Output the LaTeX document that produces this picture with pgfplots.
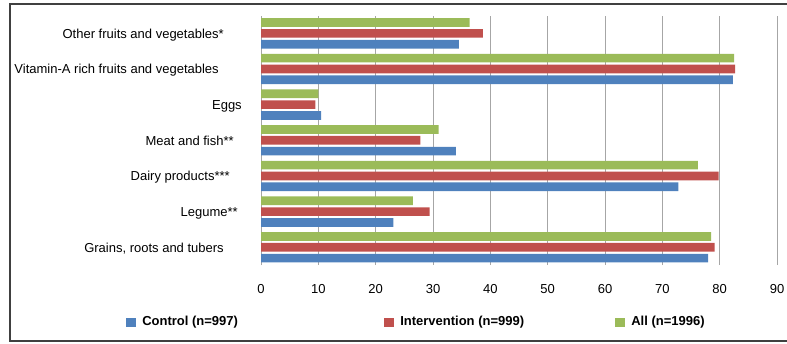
\documentclass[border=0pt]{standalone}
\usepackage{pgfplots}
\pgfplotsset{compat=1.18}
\usepackage{fontspec}
\setmainfont{Liberation Sans}

\definecolor{ctrlblue}{HTML}{4F81BD}
\definecolor{intred}{HTML}{C0504D}
\definecolor{allgreen}{HTML}{9BBB59}
\definecolor{gridgray}{HTML}{A6A6A6}
\definecolor{framegray}{HTML}{404040}

\newcommand{\lblfont}{\fontsize{9.75}{11.7}\selectfont}

\begin{document}
\begin{tikzpicture}
% page area and outer frame
\useasboundingbox (0,0) rectangle (787*0.75pt,-343*0.75pt);
\draw[framegray, line width=1.4pt]
  (790*0.75pt,-3.8*0.75pt) -- (10*0.75pt,-3.8*0.75pt)
  -- (10*0.75pt,-341*0.75pt) -- (790*0.75pt,-341*0.75pt);

\begin{axis}[
  at={(261*0.75pt,-265.1*0.75pt)}, anchor=south west,
  scale only axis, width=387pt, height=187.2pt,
  xbar, bar width=0.243,
  xmin=0, xmax=90, ymin=-0.5, ymax=6.5,
  xtick={0,10,...,90},
  ytick={0,...,6},
  yticklabels={
    {Grains, roots and tubers\kern27.75pt},
    {Legume**\kern17.25pt},
    {Dairy products***\kern23.25pt},
    {Meat and fish**\kern20.25pt},
    {Eggs\kern14.25pt},
    {Vitamin-A rich fruits and vegetables\kern31.5pt},
    {Other fruits and vegetables*\kern27.75pt}},
  axis x line*=bottom, axis y line*=left,
  x axis line style={draw=none},
  y axis line style={draw=gridgray, line width=0.75pt, -},
  major tick length=0pt,
  xmajorgrids, grid style={draw=gridgray, line width=0.75pt},
  /pgf/number format/assume math mode=true,
  tick label style={font=\lblfont},
  xticklabel style={anchor=center, inner sep=0pt, yshift=-17.6pt},
  yticklabel style={anchor=base east, inner sep=0pt, yshift=-0.36em},
  legend columns=3,
  legend cell align=left,
  legend style={at={(-0.2616,-0.228)}, anchor=west, draw=none,
    inner sep=0pt, column sep=0pt, nodes={inner sep=0pt},
    font=\bfseries\lblfont},
  legend image code/.code={\fill[#1] (0pt,-3.375pt) rectangle (7.5pt,3.375pt);},
]
% y: 0 Grains, 1 Legume, 2 Dairy, 3 Meat, 4 Eggs, 5 Vitamin-A, 6 Other
\addplot[fill=ctrlblue, draw=none, bar shift=-0.304] coordinates {
  (78.0,0) (23.1,1) (72.8,2) (34.0,3) (10.5,4) (82.3,5) (34.5,6)};
\addplot[fill=intred, draw=none, bar shift=0] coordinates {
  (79.1,0) (29.4,1) (79.8,2) (27.8,3) (9.5,4) (82.7,5) (38.7,6)};
\addplot[fill=allgreen, draw=none, bar shift=0.304] coordinates {
  (78.5,0) (26.5,1) (76.2,2) (31.0,3) (10.0,4) (82.5,5) (36.4,6)};
\legend{
  \makebox[186pt][l]{\hspace{4.5pt}Control (n=997)},
  \makebox[165.75pt][l]{\hspace{4.5pt}Intervention (n=999)},
  \hspace{4.5pt}All (n=1996)}
\end{axis}
\end{tikzpicture}
\end{document}
